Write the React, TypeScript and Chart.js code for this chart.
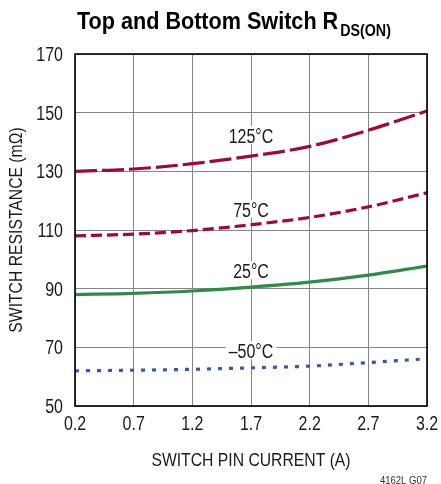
import React, { useEffect, useRef } from "react";
import { Chart, registerables } from "chart.js";

Chart.register(...registerables);

const FONT = "'Liberation Sans', Arial, Helvetica, sans-serif";

// Data
const currents = [0.2, 0.7, 1.2, 1.7, 2.2, 2.7, 3.2];
const r125 = [130, 130.8, 132.6, 135.2, 138.5, 144.0, 150.6];
const r75 = [108, 108.6, 109.8, 111.8, 114.3, 117.9, 122.7];
const r25 = [88, 88.4, 89.2, 90.5, 92.2, 94.6, 97.7];
const rm50 = [62, 62.2, 62.5, 63.0, 63.6, 64.8, 66.1];

const seriesNames = ["125°C", "75°C", "25°C", "–50°C"];
const labelAnchorX = [1.7, 1.7, 1.7, 1.7];
const labelAnchorY = [142.3, 117.1, 96.3, 69.0];

const xTicks = [0.2, 0.7, 1.2, 1.7, 2.2, 2.7, 3.2];
const yTicks = [50, 70, 90, 110, 130, 150, 170];

const titleMain = "Top and Bottom Switch R";
const titleSub = "DS(ON)";
const xTitle = "SWITCH PIN CURRENT (A)";
const yTitle = "SWITCH RESISTANCE (mΩ)";
const footnote = "4162L G07";

const RED = "#9b0a3c";
const GREEN = "#2f8a4c";
const BLUE = "#3a56a5";
const INK = "#1a1a1a";

function condText(
  ctx: CanvasRenderingContext2D,
  text: string,
  x: number,
  y: number,
  font: string,
  sx: number,
  align: CanvasTextAlign,
  rot = 0
) {
  ctx.save();
  ctx.translate(x, y);
  if (rot) ctx.rotate(rot);
  ctx.scale(sx, 1);
  ctx.font = font;
  ctx.textAlign = align;
  ctx.textBaseline = "alphabetic";
  ctx.fillText(text, 0, 0);
  ctx.restore();
}

export default function App() {
  const ref = useRef<HTMLCanvasElement | null>(null);

  useEffect(() => {
    const canvas = ref.current;
    if (!canvas) return;

    const decor = {
      id: "decor",
      afterDatasetsDraw(chart: any) {
        const ctx: CanvasRenderingContext2D = chart.ctx;
        const { left, right, top, bottom } = chart.chartArea;
        const xs = chart.scales.x;
        const ys = chart.scales.y;
        ctx.save();
        // curve labels with white backing
        const lblFont = `19.5px ${FONT}`;
        seriesNames.forEach((name, i) => {
          const px = xs.getPixelForValue(labelAnchorX[i]);
          const py = ys.getPixelForValue(labelAnchorY[i]);
          ctx.font = lblFont;
          const w = ctx.measureText(name).width * 0.82;
          ctx.fillStyle = "#ffffff";
          ctx.fillRect(px - w / 2 - 3, py - 9, w + 6, 18);
          ctx.fillStyle = INK;
          condText(ctx, name, px, py + 7.5, lblFont, 0.82, "center");
        });
        // frame
        ctx.strokeStyle = "#000";
        ctx.lineWidth = 1.6;
        ctx.strokeRect(left, top, right - left, bottom - top);
        ctx.restore();
      },
      afterDraw(chart: any) {
        const ctx: CanvasRenderingContext2D = chart.ctx;
        const xs = chart.scales.x;
        const ys = chart.scales.y;
        const { left, right, top, bottom } = chart.chartArea;
        ctx.save();
        ctx.fillStyle = INK;
        const tickFont = `19.5px ${FONT}`;
        // y tick labels
        ys.ticks.forEach((t: any) => {
          const py = ys.getPixelForValue(t.value);
          condText(ctx, String(t.value), left - 12, py + 7, tickFont, 0.82, "right");
        });
        // x tick labels
        xs.ticks.forEach((t: any) => {
          const px = xs.getPixelForValue(t.value);
          condText(ctx, Number(t.value).toFixed(1), px, bottom + 23.5, tickFont, 0.82, "center");
        });
        // axis titles
        const axFont = `18.5px ${FONT}`;
        condText(ctx, xTitle, (left + right) / 2, 465.5, axFont, 0.85, "center");
        condText(ctx, yTitle, 22, (top + bottom) / 2, axFont, 0.85, "center", -Math.PI / 2);
        // title
        ctx.fillStyle = "#000";
        const mainFont = `bold 24px ${FONT}`;
        const subFont = `bold 17px ${FONT}`;
        ctx.font = mainFont;
        const wMain = ctx.measureText(titleMain).width * 0.9;
        condText(ctx, titleMain, 77, 29, mainFont, 0.9, "left");
        condText(ctx, titleSub, 77 + wMain + 2, 36, subFont, 0.84, "left");
        // footnote
        ctx.fillStyle = "#333";
        condText(ctx, footnote, 427, 484, `10px ${FONT}`, 0.95, "right");
        ctx.restore();
      },
    };

    const mk = (label: string, data: number[], color: string, dash: number[]) => ({
      label,
      data: currents.map((x, i) => ({ x, y: data[i] })),
      borderColor: color,
      backgroundColor: color,
      borderWidth: 3.2,
      borderDash: dash,
      pointRadius: 0,
      fill: false,
      cubicInterpolationMode: "monotone" as const,
    });

    const chart = new Chart(canvas, {
      type: "line",
      data: {
        datasets: [
          mk(seriesNames[0], r125, RED, [22, 5]),
          mk(seriesNames[1], r75, RED, [11, 5]),
          mk(seriesNames[2], r25, GREEN, []),
          mk(seriesNames[3], rm50, BLUE, [4, 7]),
        ],
      },
      options: {
        animation: false,
        responsive: false,
        devicePixelRatio: 1,
        layout: { padding: { top: 54, right: 14, left: 0, bottom: 0 } },
        plugins: {
          legend: { display: false },
          title: { display: false },
          tooltip: { enabled: false },
        },
        scales: {
          x: {
            type: "linear",
            min: 0.2,
            max: 3.2,
            afterBuildTicks: (scale: any) => {
              scale.ticks = xTicks.map((v) => ({ value: v }));
            },
            afterFit: (scale: any) => {
              scale.height = 78;
            },
            grid: { color: "#858585", lineWidth: 1, drawTicks: false },
            border: { display: false },
            ticks: { display: false, autoSkip: false },
            title: { display: false },
          },
          y: {
            type: "linear",
            min: 50,
            max: 170,
            afterBuildTicks: (scale: any) => {
              scale.ticks = yTicks.map((v) => ({ value: v }));
            },
            afterFit: (scale: any) => {
              scale.width = 75;
            },
            grid: { color: "#858585", lineWidth: 1, drawTicks: false },
            border: { display: false },
            ticks: { display: false },
            title: { display: false },
          },
        },
      },
      plugins: [decor],
    });

    return () => chart.destroy();
  }, []);

  return (
    <div style={{ position: "fixed", left: 0, top: 0, width: 441, height: 484, background: "#fff" }}>
      <canvas ref={ref} width={441} height={484} style={{ width: 441, height: 484, display: "block" }} />
    </div>
  );
}
